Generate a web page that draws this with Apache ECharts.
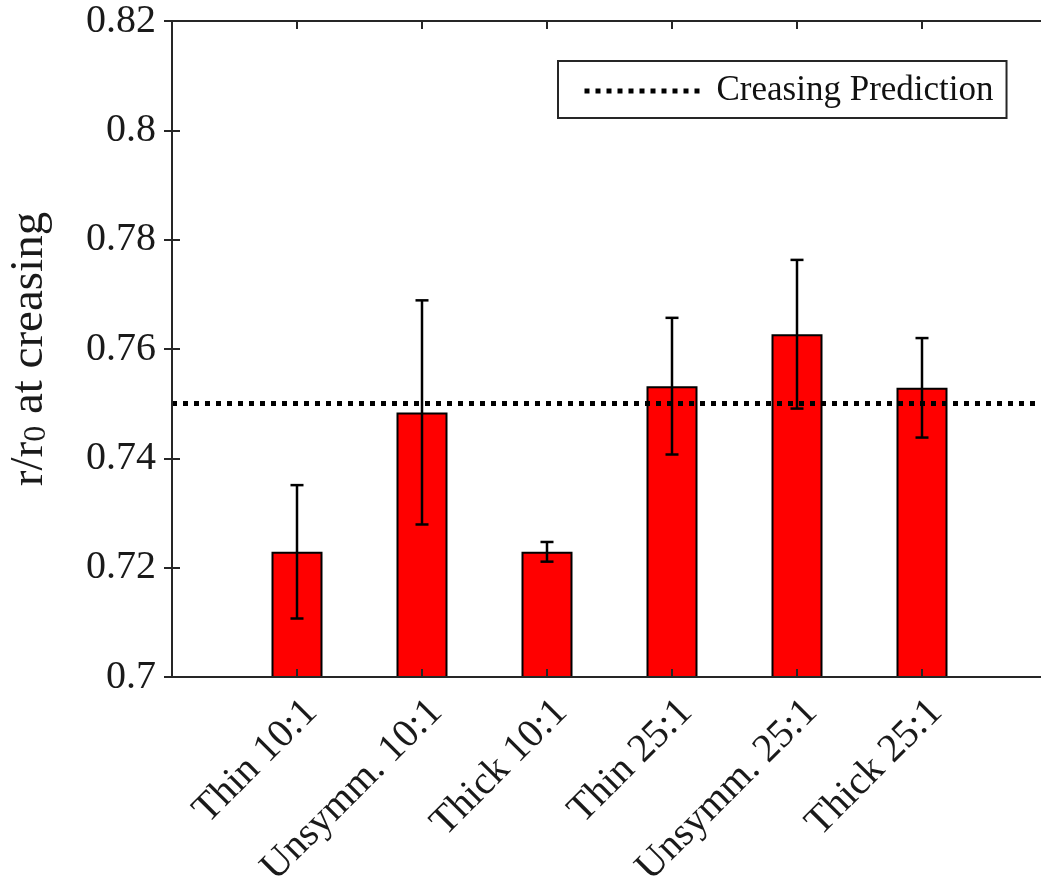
<!DOCTYPE html>
<html>
<head>
<meta charset="utf-8">
<script src="https://cdn.jsdelivr.net/npm/echarts@6/dist/echarts.min.js"></script>
<style>html,body{margin:0;padding:0;background:#fff;}#chart{width:1041px;height:886px;}</style>
</head>
<body>
<div id="chart"></div>
<script>
const categories = ['Thin 10:1', 'Unsymm. 10:1', 'Thick 10:1', 'Thin 25:1', 'Unsymm. 25:1', 'Thick 25:1'];
const meanValues = [0.7229, 0.7484, 0.7229, 0.7532, 0.7627, 0.7529];
const errorValues = [0.0122, 0.0205, 0.0018, 0.0125, 0.0136, 0.0091];
const predictionValue = 0.75;
const yTicks = [0.7, 0.72, 0.74, 0.76, 0.78, 0.8, 0.82];

const FONT = 'Liberation Serif';
const AX = '#262626';

const barData = categories.map((c, i) => [i + 1, meanValues[i]]);
const errData = categories.map((c, i) => [i + 1, meanValues[i] - errorValues[i], meanValues[i] + errorValues[i]]);

const chart = echarts.init(document.getElementById('chart'), null, {renderer: 'canvas'});

const axisCommon = {
  axisLine: {show: true, lineStyle: {color: AX, width: 2}},
  axisTick: {show: true, inside: true, length: 8, lineStyle: {color: AX, width: 2}},
  splitLine: {show: false},
  z: 10
};

chart.setOption({
  animation: false,
  backgroundColor: '#fff',
  grid: {left: 172, top: 21, width: 875, height: 656, containLabel: false, outerBoundsMode: 'none'},
  legend: {
    show: true,
    data: ['Creasing Prediction'],
    left: 558,
    top: 61,
    orient: 'horizontal',
    padding: [8, 13, 5, 24],
    itemWidth: 118,
    itemHeight: 14,
    borderColor: AX,
    borderWidth: 2,
    backgroundColor: '#fff',
    selectedMode: false,
    itemStyle: {color: 'rgba(0,0,0,0)', borderWidth: 0, opacity: 0},
    lineStyle: {width: 5, type: [5, 6], color: '#000', opacity: 1},
    textStyle: {fontFamily: FONT, fontSize: 35, color: '#111', lineHeight: 36, padding: [8, 0, 0, 9]}
  },
  xAxis: [
    Object.assign({}, axisCommon, {
      type: 'value', position: 'bottom', min: 0, max: 7, interval: 1,
      axisLabel: {
        show: true, rotate: 45, fontFamily: FONT, fontSize: 40, color: '#1a1a1a', margin: 15,
        verticalAlign: 'top',
        formatter: v => (v >= 1 && v <= categories.length) ? categories[v - 1] : ''
      }
    }),
    Object.assign({}, axisCommon, {
      type: 'value', position: 'top', min: 0, max: 7, interval: 1,
      axisLabel: {show: false}
    })
  ],
  yAxis: [
    Object.assign({}, axisCommon, {
      type: 'value', position: 'left', min: yTicks[0], max: yTicks[yTicks.length - 1], interval: 0.02,
      axisLabel: {
        show: true, fontFamily: FONT, fontSize: 40, color: '#1a1a1a', margin: 16,
        formatter: v => String(+(+v).toFixed(2))
      },
      name: '{m|r/r}{s|0}{m| at creasing}',
      nameLocation: 'middle',
      nameRotate: 90,
      nameGap: 119,
      nameTextStyle: {
        rich: {
          m: {fontFamily: FONT, fontSize: 47, color: '#1a1a1a', lineHeight: 47, verticalAlign: 'top'},
          s: {fontFamily: FONT, fontSize: 32, color: '#1a1a1a', lineHeight: 32, verticalAlign: 'bottom'}
        },
        lineHeight: 70
      }
    }),
    Object.assign({}, axisCommon, {
      type: 'value', position: 'right', min: yTicks[0], max: yTicks[yTicks.length - 1], interval: 0.02,
      axisLabel: {show: false}
    })
  ],
  series: [
    {
      type: 'bar',
      name: 'mean',
      data: barData,
      barWidth: 51,
      itemStyle: {color: '#ff0000', borderColor: '#000', borderWidth: 2},
      z: 2
    },
    {
      type: 'custom',
      name: 'error',
      data: errData,
      encode: {x: 0, y: [1, 2]},
      z: 5,
      renderItem: function (params, api) {
        const x = api.value(0);
        const lo = api.coord([x, api.value(1)]);
        const hi = api.coord([x, api.value(2)]);
        const hw = 6.5;
        const style = {stroke: '#000', lineWidth: 2.5};
        return {
          type: 'group',
          children: [
            {type: 'line', shape: {x1: lo[0], y1: lo[1], x2: hi[0], y2: hi[1]}, style: style},
            {type: 'line', shape: {x1: lo[0] - hw, y1: lo[1], x2: lo[0] + hw, y2: lo[1]}, style: style},
            {type: 'line', shape: {x1: hi[0] - hw, y1: hi[1], x2: hi[0] + hw, y2: hi[1]}, style: style}
          ]
        };
      }
    },
    {
      type: 'line',
      name: 'Creasing Prediction',
      data: [],
      symbol: 'none',
      showSymbol: false,
      itemStyle: {color: '#000'},
      lineStyle: {color: '#000', width: 5, type: [5, 6]},
      z: 6,
      markLine: {
        silent: true,
        symbol: ['none', 'none'],
        label: {show: false},
        lineStyle: {color: '#000', width: 5, type: [5, 6]},
        data: [{yAxis: predictionValue}]
      }
    }
  ]
});
</script>
</body>
</html>
